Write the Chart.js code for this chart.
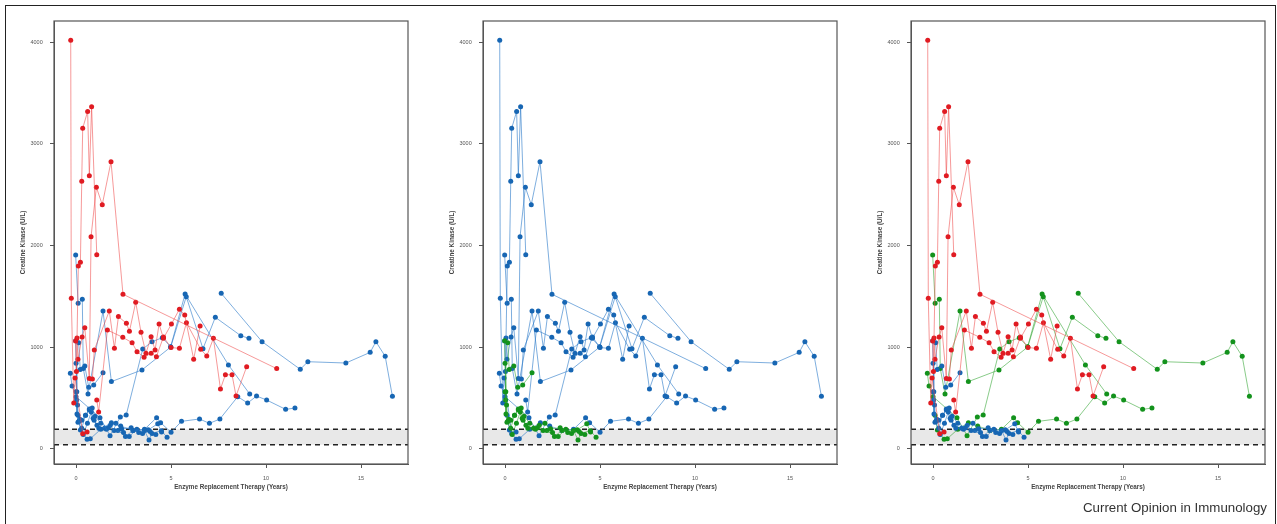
<!DOCTYPE html>
<html>
<head>
<meta charset="utf-8">
<script src="https://cdn.jsdelivr.net/npm/chart.js@4.4.0/dist/chart.umd.min.js"></script>
<style>
  body { margin: 0; background: #fff; width: 1277px; height: 524px; overflow: hidden; position: relative; font-family: "Liberation Sans", Arial, sans-serif; }
  .frame { position: absolute; left: 5px; top: 5px; width: 1271px; height: 540px; border: 1.5px solid #222; border-bottom: none; box-sizing: border-box; }
  .panel { position: absolute; top: 8px; }
  .credit { position: absolute; right: 10px; top: 500px; font-size: 13.3px; line-height: 15px; color: #333; white-space: nowrap; }
</style>
</head>
<body>
<div class="frame"></div>
<canvas id="panel1" class="panel" width="410" height="495" style="left:8px"></canvas>
<canvas id="panel2" class="panel" width="410" height="495" style="left:437px"></canvas>
<canvas id="panel3" class="panel" width="410" height="495" style="left:865px"></canvas>
<div class="credit">Current Opinion in Immunology</div>
<script>
// axis ticks
const yearTicks = [0, 5, 10, 15];
const ckTicks = [0, 1000, 2000, 3000, 4000];
// reference range of CK (shaded band)
const refLow = 39;
const refHigh = 191;

// group A patients (high CK)
const a1Years = [-0.28, -0.25, -0.12, -0.05, 0.35, 0.58];
const a1CK = [4020, 1480, 450, 696, 148, 165];
const a2Years = [-0.02, 0.02, 0.12, 0.23, 0.30, 0.35, 0.61, 0.70, 0.82, 1.09];
const a2CK = [1060, 760, 1798, 1835, 2632, 3154, 3320, 2687, 3366, 1910];
const a3Years = [0.05, 0.10, 0.32, 0.46, 0.70, 0.79, 1.07, 1.38, 1.84, 2.47, 10.56];
const a3CK = [1090, 880, 1100, 1191, 690, 2087, 2573, 2402, 2825, 1520, 788];
const a4Years = [0.86, 0.96, 1.75, 2.02, 2.23, 2.65, 2.81, 3.14, 3.42, 3.68, 3.95, 4.16, 4.37, 4.60, 5.02, 5.44, 5.72, 6.19, 6.53];
const a4CK = [686, 971, 1355, 988, 1300, 1234, 1155, 1441, 1145, 939, 1102, 971, 1227, 1086, 1227, 1372, 1316, 880, 1208];
const a5Years = [1.09, 1.19, 1.65, 2.46, 2.95, 3.21, 3.58, 3.95, 4.23, 4.60, 5.00, 5.44, 5.81, 6.56, 6.88, 7.23, 7.60, 7.86, 8.21, 8.42, 8.98];
const a5CK = [479, 360, 1168, 1096, 1043, 955, 900, 940, 906, 1100, 995, 988, 1240, 978, 912, 1086, 588, 728, 728, 519, 807];

// group B patients (long follow-up)
const b1Years = [7.64, 9.79, 11.80, 12.20, 14.20, 15.48, 15.78, 16.27, 16.65];
const b1CK = [1529, 1053, 781, 856, 843, 948, 1053, 909, 515];
const b2Years = [-0.30, -0.21, 0.00, 1.26, 1.79, 2.33, 2.64, 3.51, 4.00, 4.54, 4.98, 5.74, 8.02, 9.14];
const b2CK = [742, 617, 512, 305, 128, 312, 331, 981, 1053, 1092, 1004, 1523, 824, 538];
const b3Years = [-0.02, 0.11, 0.33, 0.38, 0.63, 1.42, 1.86, 3.47, 4.98, 5.80, 6.68, 7.33, 8.67, 9.10];
const b3CK = [1906, 1431, 1470, 790, 538, 1355, 660, 775, 1000, 1496, 984, 1293, 1112, 1086];
const b4Years = [0.10, 0.23, 0.58, 0.75, 1.30, 1.86, 2.35, 3.00, 3.60, 4.24, 4.45, 5.00, 5.55, 6.50, 7.02, 7.57, 8.51, 9.03, 9.50, 10.03, 11.03, 11.52];
const b4CK = [330, 184, 92, 98, 190, 256, 223, 180, 190, 305, 256, 161, 269, 292, 249, 292, 512, 449, 518, 479, 387, 400];

// group C patients (low CK)
const c1Years = [-0.02, 0.00, 0.04, 0.08, 0.15, 0.30, 0.50, 0.70, 0.85, 1.00, 1.30, 1.70, 2.10, 2.40, 2.90, 3.30, 3.80, 4.30, 4.50];
const c1CK = [1063, 840, 560, 430, 270, 280, 330, 390, 400, 320, 250, 205, 250, 195, 205, 160, 185, 245, 165];
const c2Years = [0.14, 0.22, 0.46, 0.67, 0.93, 1.42];
const c2CK = [1043, 780, 814, 604, 627, 748];
const c3Years = [0.00, 0.05, 0.20, 0.38, 0.60, 0.80, 0.95, 1.10, 1.50, 1.80, 2.00, 2.50, 2.80, 3.20, 3.60, 3.84, 4.00, 4.49, 4.79];
const c3CK = [560, 340, 290, 140, 250, 360, 280, 230, 200, 230, 180, 160, 120, 190, 180, 86, 150, 177, 112];
const c4Years = [0.03, 0.10, 0.30, 0.50, 0.70, 0.90, 1.20, 1.60, 2.20, 2.60, 3.00, 3.50, 3.90, 4.20];
const c4CK = [480, 260, 200, 330, 380, 300, 200, 190, 180, 120, 180, 150, 170, 140];

const groupA = [[a1Years, a1CK], [a2Years, a2CK], [a3Years, a3CK], [a4Years, a4CK], [a5Years, a5CK]];
const groupB = [[b1Years, b1CK], [b2Years, b2CK], [b3Years, b3CK], [b4Years, b4CK]];
const groupC = [[c1Years, c1CK], [c2Years, c2CK], [c3Years, c3CK], [c4Years, c4CK]];

const red = { point: "#e01b22", line: "rgba(238, 70, 70, 0.55)" };
const blue = { point: "#1766b3", line: "rgba(40, 120, 200, 0.6)" };
const green = { point: "#13921c", line: "rgba(40, 160, 40, 0.55)" };

// grey reference band with dashed borders
const bandPlugin = {
  id: "band",
  beforeDatasetsDraw(chart) {
    const { ctx, chartArea, scales } = chart;
    const yHi = scales.y.getPixelForValue(refHigh);
    const yLo = scales.y.getPixelForValue(refLow);
    ctx.save();
    ctx.fillStyle = "#e8e8e8";
    ctx.fillRect(chartArea.left, yHi, chartArea.right - chartArea.left, yLo - yHi);
    ctx.strokeStyle = "#222";
    ctx.lineWidth = 1.5;
    ctx.setLineDash([5, 4]);
    [yHi, yLo].forEach((y) => {
      ctx.beginPath();
      ctx.moveTo(chartArea.left, y);
      ctx.lineTo(chartArea.right, y);
      ctx.stroke();
    });
    ctx.restore();
  },
};

// box around the plot area
const boxPlugin = {
  id: "box",
  afterDraw(chart) {
    const { ctx, chartArea } = chart;
    ctx.save();
    ctx.strokeStyle = "#555";
    ctx.lineWidth = 1.2;
    ctx.strokeRect(chartArea.left, chartArea.top, chartArea.right - chartArea.left, chartArea.bottom - chartArea.top);
    ctx.restore();
  },
};

function makePanel(id, groups) {
  const datasets = [];
  groups.forEach((g) => {
    g.patients.forEach((p) => {
      datasets.push({
        data: p[0].map((x, i) => ({ x: x, y: p[1][i] })),
        showLine: true,
        borderColor: g.color.line,
        borderWidth: 1,
        pointBackgroundColor: g.color.point,
        pointBorderWidth: 0,
        pointRadius: 2.5,
      });
    });
  });

  new Chart(document.getElementById(id), {
    type: "scatter",
    data: { datasets: datasets },
    options: {
      responsive: false,
      animation: false,
      events: [],
      layout: { padding: { top: 13, right: 10, left: 0, bottom: 0 } },
      plugins: { legend: { display: false }, tooltip: { enabled: false } },
      scales: {
        x: {
          type: "linear",
          min: -1.16,
          max: 17.47,
          afterBuildTicks: (s) => { s.ticks = yearTicks.map((v) => ({ value: v })); },
          afterFit: (s) => { s.height = 39; },
          grid: { drawOnChartArea: false, tickLength: 4, color: "#555" },
          border: { color: "#555" },
          ticks: { font: { size: 5.5, family: "Liberation Sans" }, color: "#555", padding: 7.5, maxRotation: 0, callback: (v) => String(v) },
          title: {
            display: true,
            text: "Enzyme Replacement Therapy (Years)",
            font: { size: 6.3, weight: "bold", family: "Liberation Sans" },
            color: "#444",
            padding: { top: 0, bottom: 11.5 },
          },
        },
        y: {
          type: "linear",
          min: -151,
          max: 4210,
          afterBuildTicks: (s) => { s.ticks = ckTicks.map((v) => ({ value: v })); },
          afterFit: (s) => { s.width = 46; },
          grid: { drawOnChartArea: false, tickLength: 4, color: "#555" },
          border: { color: "#555" },
          ticks: { font: { size: 5.5, family: "Liberation Sans" }, color: "#555", padding: 7.3, callback: (v) => String(v) },
          title: {
            display: true,
            text: "Creatine Kinase (U/L)",
            font: { size: 6.3, weight: "bold", family: "Liberation Sans" },
            color: "#444",
            padding: { top: 11.4, bottom: 0 },
          },
        },
      },
    },
    plugins: [bandPlugin, boxPlugin],
  });
}

// panel 1: group A red, groups B and C blue
makePanel("panel1", [
  { patients: groupA, color: red },
  { patients: groupB.concat(groupC), color: blue },
]);
// panel 2: groups A and B blue, group C green
makePanel("panel2", [
  { patients: groupC, color: green },
  { patients: groupA.concat(groupB), color: blue },
]);
// panel 3: group A red, group B green, group C blue
makePanel("panel3", [
  { patients: groupA, color: red },
  { patients: groupC, color: blue },
  { patients: groupB, color: green },
]);
</script>
</body>
</html>
